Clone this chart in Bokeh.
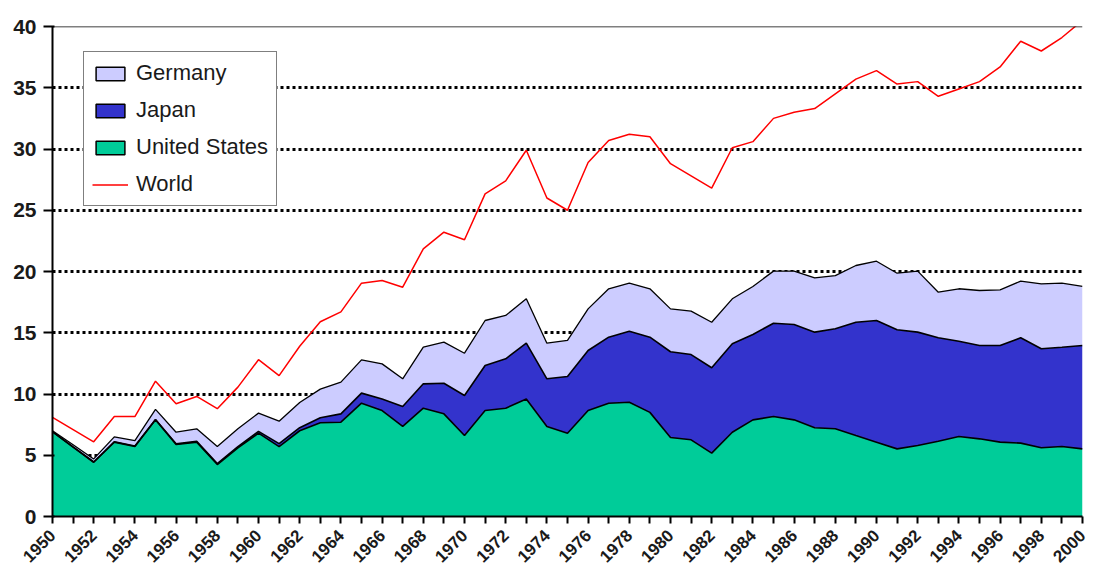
import math
import numpy as np
from bokeh.plotting import figure
from bokeh.models import Range1d, FixedTicker, Span, Legend, LegendItem
from bokeh.embed import file_html
from bokeh.resources import INLINE

years = list(range(1950, 2001))

united_states = [6.90, 5.66, 4.43, 6.07, 5.71, 7.89, 5.88, 6.07, 4.24, 5.60,
                 6.80, 5.71, 7.00, 7.65, 7.70, 9.25, 8.65, 7.35, 8.84, 8.38,
                 6.61, 8.65, 8.84, 9.60, 7.35, 6.80, 8.65, 9.25, 9.33, 8.50,
                 6.45, 6.26, 5.17, 6.88, 7.89, 8.16, 7.89, 7.24, 7.16, 6.61,
                 6.07, 5.52, 5.80, 6.15, 6.53, 6.34, 6.07, 5.99, 5.61, 5.71,
                 5.52]

japan = [0.02, 0.02, 0.02, 0.03, 0.04, 0.03, 0.05, 0.06, 0.08, 0.10,
         0.15, 0.24, 0.25, 0.41, 0.68, 0.82, 0.95, 1.63, 1.99, 2.50,
         3.27, 3.68, 4.03, 4.55, 3.89, 4.63, 4.90, 5.39, 5.80, 6.14,
         7.00, 6.96, 6.97, 7.22, 6.97, 7.62, 7.78, 7.81, 8.16, 9.25,
         9.93, 9.72, 9.25, 8.44, 7.78, 7.62, 7.89, 8.60, 8.08, 8.11,
         8.44]

germany = [0.08, 0.17, 0.25, 0.40, 0.45, 0.83, 0.95, 1.03, 1.39, 1.46,
           1.49, 1.83, 2.05, 2.34, 2.59, 2.72, 2.86, 2.26, 2.99, 3.35,
           3.45, 3.67, 3.54, 3.62, 2.91, 2.94, 3.40, 3.95, 3.92, 3.95,
           3.50, 3.54, 3.72, 3.67, 3.92, 4.25, 4.36, 4.43, 4.35, 4.63,
           4.84, 4.62, 4.98, 3.72, 4.28, 4.49, 4.54, 4.62, 5.30, 5.23,
           4.82]

world = [8.1, 7.1, 6.1, 8.16, 8.16, 11.05, 9.2, 9.8, 8.8, 10.56,
         12.8, 11.5, 13.9, 15.9, 16.7, 19.05, 19.27, 18.72, 21.85, 23.21,
         22.59, 26.34, 27.4, 29.9, 26.0, 25.0, 28.9, 30.7, 31.2, 31.0,
         28.8, 27.8, 26.8, 30.1, 30.6, 32.5, 33.0, 33.3, 34.5, 35.7,
         36.4, 35.3, 35.5, 34.3, 34.9, 35.5, 36.7, 38.8, 38.0, 39.1,
         40.5]

y_ticks = [0, 5, 10, 15, 20, 25, 30, 35, 40]

GER_COLOR = "#CCCCFF"
JPN_COLOR = "#3333CC"
USA_COLOR = "#00CC99"
WORLD_COLOR = "#FF0000"
FONT = "Liberation Sans"

us = np.array(united_states)
top_us = us
top_jp = us + np.array(japan)
top_de = top_jp + np.array(germany)

p = figure(width=1092, height=580, output_backend="svg", toolbar_location=None,
           x_range=Range1d(1950, 2000), y_range=Range1d(0, 40),
           min_border_left=52, min_border_right=10, min_border_top=26,
           min_border_bottom=64, background_fill_color="white",
           border_fill_color="white")
p.outline_line_color = None

# stacked areas
p.varea(x=years, y1=0, y2=top_us, fill_color=USA_COLOR)
p.varea(x=years, y1=top_us, y2=top_jp, fill_color=JPN_COLOR)
p.varea(x=years, y1=top_jp, y2=top_de, fill_color=GER_COLOR)
p.line(years, top_us, line_color="black", line_width=1.6)
p.line(years, top_jp, line_color="black", line_width=1.6)
p.line(years, top_de, line_color="black", line_width=1.3)

# world line
world_r = p.line(years, world, line_color=WORLD_COLOR, line_width=1.5)

# top border
p.add_layout(Span(location=40, dimension="width", line_color="black", line_width=1.5))

# grid
p.xgrid.visible = False
p.ygrid.ticker = FixedTicker(ticks=y_ticks)
p.ygrid.grid_line_color = "black"
p.ygrid.grid_line_dash = "3 3"
p.ygrid.grid_line_width = 2.8

# axes
p.yaxis.ticker = FixedTicker(ticks=y_ticks)
p.yaxis.axis_line_color = "black"
p.yaxis.axis_line_width = 2
p.yaxis.major_tick_line_color = "black"
p.yaxis.major_tick_line_width = 2
p.yaxis.major_tick_out = 9
p.yaxis.major_tick_in = 2
p.yaxis.minor_tick_line_color = None
p.yaxis.major_label_standoff = 7
p.yaxis.major_label_text_font = FONT
p.yaxis.major_label_text_font_size = "21px"
p.yaxis.major_label_text_font_style = "bold"
p.yaxis.major_label_text_color = "#1a1a1a"

p.xaxis.ticker = FixedTicker(ticks=years)
p.xaxis.major_label_overrides = {y: "" for y in years if y % 2 == 1}
p.xaxis.major_label_orientation = math.pi / 4
p.xaxis.axis_line_color = "black"
p.xaxis.axis_line_width = 2
p.xaxis.major_tick_line_color = "black"
p.xaxis.major_tick_line_width = 2
p.xaxis.major_tick_out = 7
p.xaxis.major_tick_in = 0
p.xaxis.minor_tick_line_color = None
p.xaxis.major_label_standoff = 9
p.xaxis.major_label_text_font = FONT
p.xaxis.major_label_text_font_size = "17px"
p.xaxis.major_label_text_font_style = "bold"
p.xaxis.major_label_text_color = "#1a1a1a"

# legend proxies (not visible in the plot area)
nan = [np.nan]
g_leg = p.quad(left=nan, right=nan, top=nan, bottom=nan, fill_color=GER_COLOR,
               line_color="black", line_width=1.5)
j_leg = p.quad(left=nan, right=nan, top=nan, bottom=nan, fill_color=JPN_COLOR,
               line_color="black", line_width=1.5)
u_leg = p.quad(left=nan, right=nan, top=nan, bottom=nan, fill_color=USA_COLOR,
               line_color="black", line_width=1.5)

legend = Legend(items=[LegendItem(label="Germany", renderers=[g_leg]),
                       LegendItem(label="Japan", renderers=[j_leg]),
                       LegendItem(label="United States", renderers=[u_leg]),
                       LegendItem(label="World", renderers=[world_r])],
                location=(31, 310))
legend.border_line_color = "black"
legend.border_line_width = 1.5
legend.background_fill_color = "white"
legend.background_fill_alpha = 1
legend.padding = 8
legend.spacing = 11
legend.margin = 0
legend.label_standoff = 8
legend.glyph_width = 36
legend.glyph_height = 17
legend.label_text_font = FONT
legend.label_text_font_size = "22px"
legend.label_text_color = "#1a1a1a"
p.add_layout(legend)

open("out.html", "w").write(file_html(p, INLINE))
